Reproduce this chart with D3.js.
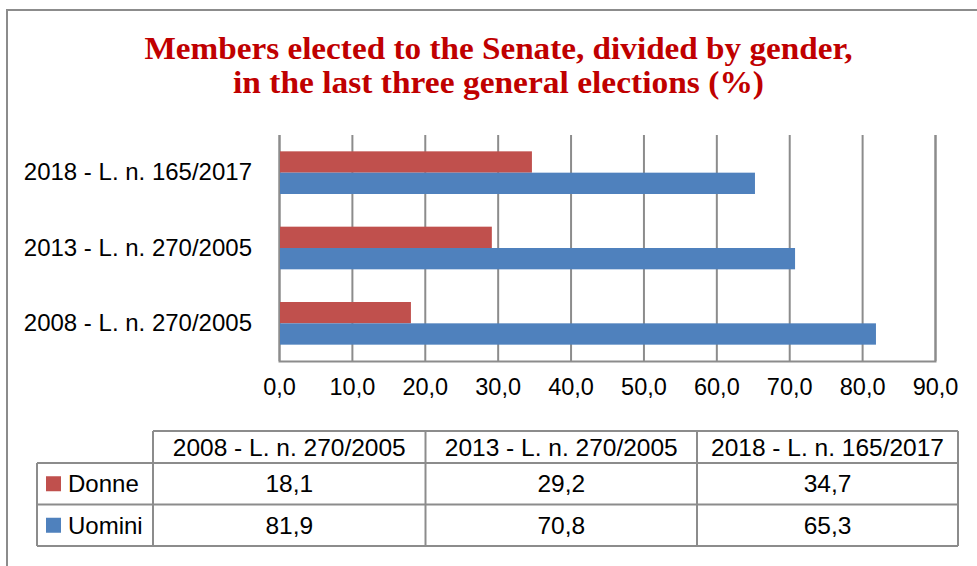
<!DOCTYPE html>
<html>
<head>
<meta charset="utf-8">
<script src="https://cdn.jsdelivr.net/npm/d3@7"></script>
<style>
  html, body { margin: 0; padding: 0; background: #fff; }
  svg { display: block; }
  text { font-family: "Liberation Sans", Arial, sans-serif; fill: #000; }
</style>
</head>
<body>
<svg id="chart" width="977" height="566"></svg>
<script>
// Senate members elected, by gender (%)
const categories = ["2008 - L. n. 270/2005", "2013 - L. n. 270/2005", "2018 - L. n. 165/2017"];
const series = ["Donne", "Uomini"];
const donne = [18.1, 29.2, 34.7];
const uomini = [81.9, 70.8, 65.3];
const tickValues = [0, 10, 20, 30, 40, 50, 60, 70, 80, 90];
const titleLines = [
  "Members elected to the Senate, divided by gender,",
  "in the last three general elections (%)"
];

const colors = { Donne: "#C0504D", Uomini: "#4F81BD" };
const gridColor = "#8c8c8c";
const fmt = v => v.toFixed(1).replace(".", ",");

const svg = d3.select("#chart");

// outer frame
svg.append("path")
  .attr("d", "M7,566 L7,10 L990,10")
  .attr("fill", "none")
  .attr("stroke", gridColor)
  .attr("stroke-width", 2);

// title
const titleWidths = [708, 531];
const titleBase = [59, 93];
titleLines.forEach((t, i) => {
  svg.append("text")
    .attr("x", 498.5)
    .attr("y", titleBase[i])
    .attr("text-anchor", "middle")
    .attr("textLength", titleWidths[i])
    .attr("lengthAdjust", "spacingAndGlyphs")
    .style("font-family", "'Liberation Serif', 'DejaVu Serif', serif")
    .style("font-weight", "bold")
    .style("font-size", "31px")
    .style("fill", "#C00000")
    .text(t);
});

// plot area
const plot = { left: 279, right: 935, top: 135, bottom: 361 };
const x = d3.scaleLinear().domain([0, 90]).range([plot.left, plot.right]);
const y = d3.scaleBand()
  .domain(categories.slice().reverse())
  .range([plot.top, plot.bottom])
  .padding(0);
const ySub = d3.scaleBand()
  .domain(series)
  .range([0, y.bandwidth()])
  .paddingInner(0)
  .paddingOuter(0.766);

// gridlines + bottom axis line
const grid = svg.append("g")
  .attr("transform", `translate(0,${plot.bottom})`)
  .call(d3.axisBottom(x).tickValues(tickValues).tickSize(-(plot.bottom - plot.top)).tickFormat(""));
grid.selectAll("line").attr("stroke", gridColor).attr("stroke-width", 2);
grid.select(".domain").attr("stroke", gridColor).attr("stroke-width", 2);

// bars
const rows = categories.map((c, i) => ({ cat: c, Donne: donne[i], Uomini: uomini[i] }));
const groups = svg.append("g").selectAll("g")
  .data(rows)
  .join("g")
  .attr("transform", d => `translate(0,${y(d.cat)})`);
groups.selectAll("rect")
  .data(d => series.map(s => ({ s, v: d[s] })))
  .join("rect")
  .attr("x", x(0) + 1)
  .attr("y", d => ySub(d.s))
  .attr("width", d => x(d.v) - x(0) - 1)
  .attr("height", ySub.bandwidth())
  .attr("fill", d => colors[d.s]);

// x tick labels
const xAxis = svg.append("g")
  .attr("transform", `translate(0,${plot.bottom})`)
  .call(d3.axisBottom(x).tickValues(tickValues).tickSize(0).tickPadding(17).tickFormat(fmt));
xAxis.select(".domain").remove();
xAxis.selectAll("text").style("font-size", "23.5px").style("font-family", "'Liberation Sans', Arial, sans-serif").attr("fill", "#000");

// category labels
const yAxis = svg.append("g")
  .attr("transform", `translate(${plot.left},0)`)
  .call(d3.axisLeft(y).tickSize(0).tickPadding(27));
yAxis.select(".domain").remove();
yAxis.selectAll("text").style("font-size", "24px").style("font-family", "'Liberation Sans', Arial, sans-serif").attr("fill", "#000");

// data table
const colEdges = [153, 425.5, 697, 958];
const rowEdges = [431, 463, 504.5, 546];
const tableLeft = 37;
const tbl = svg.append("g");
const line = (x1, y1, x2, y2) => tbl.append("line")
  .attr("x1", x1).attr("y1", y1).attr("x2", x2).attr("y2", y2)
  .attr("stroke", gridColor).attr("stroke-width", 2);

// horizontal rules
line(colEdges[0], rowEdges[0], colEdges[3], rowEdges[0]);
for (let r = 1; r < rowEdges.length; r++) line(tableLeft, rowEdges[r], colEdges[3], rowEdges[r]);
// vertical rules
line(tableLeft, rowEdges[1], tableLeft, rowEdges[3]);
colEdges.forEach(cx => line(cx, rowEdges[0], cx, rowEdges[3]));

const colCenter = i => (colEdges[i] + colEdges[i + 1]) / 2;
const rowCenter = r => (rowEdges[r] + rowEdges[r + 1]) / 2;

// header cells
categories.forEach((c, i) => {
  tbl.append("text")
    .attr("x", colCenter(i))
    .attr("y", rowCenter(0))
    .attr("dy", "0.35em")
    .attr("text-anchor", "middle")
    .style("font-size", "24.5px")
    .text(c);
});

// value rows with legend keys
const seriesValues = { Donne: donne, Uomini: uomini };
series.forEach((s, r) => {
  const cy = rowCenter(r + 1);
  tbl.append("rect")
    .attr("x", 46).attr("y", cy - 7.5)
    .attr("width", 15).attr("height", 15)
    .attr("fill", colors[s]);
  tbl.append("text")
    .attr("x", 68).attr("y", cy).attr("dy", "0.35em")
    .style("font-size", "24px")
    .text(s);
  seriesValues[s].forEach((v, i) => {
    tbl.append("text")
      .attr("x", colCenter(i)).attr("y", cy).attr("dy", "0.35em")
      .attr("text-anchor", "middle")
      .style("font-size", "24.5px")
      .text(fmt(v));
  });
});
</script>
</body>
</html>
